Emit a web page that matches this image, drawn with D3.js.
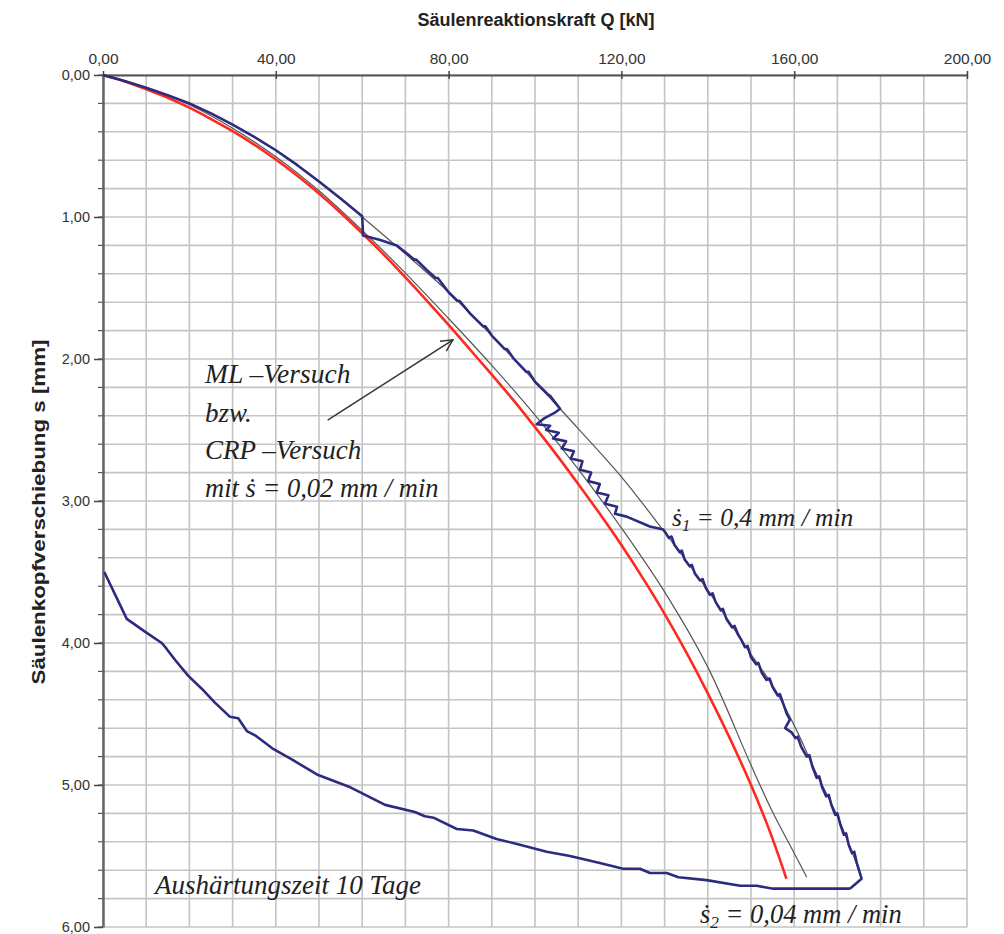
<!DOCTYPE html>
<html>
<head>
<meta charset="utf-8">
<script src="https://cdn.jsdelivr.net/npm/d3@7/dist/d3.min.js"></script>
<style>
  html, body { margin: 0; padding: 0; background: #fff; }
  svg { display: block; }
</style>
</head>
<body>
<svg id="chart" width="1004" height="934"></svg>
<script>
// ---- data (Q in kN, s in mm) ----
const xTicks = [0, 40, 80, 120, 160, 200];
const yTicks = [0, 1, 2, 3, 4, 5, 6];

// ML- / CRP-Versuch (red)
const redCurve = [
  [0,0],[5,0.045],[10,0.10],[15,0.16],[20,0.23],[25,0.31],[30,0.395],[35,0.49],[40,0.595],
  [45,0.71],[50,0.835],[55,0.97],[60,1.115],[65,1.265],[70,1.425],[75,1.59],[80,1.76],
  [85,1.935],[90,2.11],[95,2.29],[100,2.48],[105,2.675],[110,2.88],[115,3.09],[120,3.31],
  [125,3.545],[130,3.795],[135,4.065],[140,4.355],[145,4.665],[150,5.0],[154.4,5.33],[158.2,5.66]
];
// thin grey reference curve 1
const greyCurve1 = [
  [0,0],[10,0.09],[20,0.21],[30,0.375],[40,0.575],[50,0.815],[60,1.095],[70,1.395],[80,1.715],
  [90,2.045],[100,2.395],[110,2.775],[120,3.19],[130,3.64],[140,4.17],[150,4.86],
  [155,5.19],[160,5.48],[162.9,5.65]
];
// thin grey reference curve 2
const greyCurve2 = [
  [0,0],[10,0.09],[20,0.20],[30,0.35],[40,0.53],[50,0.75],[60,1.0],[70,1.26],[80,1.53],
  [90,1.835],[100,2.16],[110,2.49],[120,2.83],[130,3.22],[140,3.63],[150,4.08],[155,4.30],
  [160,4.58],[165,4.91],[170,5.22],[175,5.60]
];
// s1 = 0,4 mm/min (blue)
const blueS1 = [
  [0,0],[5,0.042],[10,0.09],[15,0.142],[20,0.20],[25,0.27],[30,0.35],[35,0.435],[40,0.53],
  [45,0.635],[50,0.75],[55,0.87],[60,0.995],[60.2,1.13],[64,1.16],[68,1.20],[70.5,1.26],
  [72,1.30],[72.5,1.30],[75,1.375],[77,1.43],[77.5,1.43],[80,1.53],[82,1.59],[82.5,1.59],
  [85,1.68],[88,1.77],[88.5,1.77],[90,1.835],[93,1.93],[93.5,1.93],[95,1.995],[98,2.09],
  [98.5,2.09],[100,2.16],[103,2.25],[103.5,2.26],[105.8,2.35],[104.5,2.38],[102,2.42],[100.4,2.46],
  [103.5,2.47],[102.6,2.50],[105.5,2.52],[104.2,2.56],[107.2,2.58],[106.2,2.63],[109,2.65],
  [108.3,2.70],[111,2.72],[110.4,2.78],[113,2.80],[112.3,2.86],[115,2.88],[114.3,2.94],
  [117,2.96],[116.2,3.02],[119,3.04],[118.5,3.09],[121.2,3.11],[126.6,3.18],[129.7,3.20],
  [131,3.26],[131.6,3.25],[132.3,3.31],[133.5,3.36],[134.0,3.35],[134.6,3.41],[135.8,3.46],
  [136.3,3.45],[137,3.51],[138.2,3.56],[138.8,3.55],[139.5,3.61],[140.5,3.66],[141.1,3.65],
  [141.8,3.71],[143,3.77],[143.5,3.76],[144.3,3.83],[145.6,3.89],[146.2,3.88],[147,3.94],
  [147.8,3.98],[148.6,4.03],[149.2,4.02],[150,4.10],[151.2,4.15],[151.7,4.14],[152.5,4.21],
  [153.6,4.26],[154.3,4.25],[155,4.31],[156.2,4.37],[156.7,4.36],[157.5,4.43],[158.3,4.50],
  [159,4.54],[157.9,4.60],[159.4,4.63],[160.3,4.67],[160.8,4.66],[161.6,4.73],[162.9,4.80],
  [163.5,4.79],[164.2,4.87],[165.2,4.95],[165.8,4.94],[166.4,5.01],[167.4,5.08],[168,5.07],
  [168.6,5.14],[169.5,5.21],[170,5.20],[170.7,5.28],[171.5,5.35],[172,5.34],[172.6,5.42],
  [173.4,5.48],[173.9,5.47],[174.5,5.55],[175.6,5.66],[172.9,5.73]
];
// s2 = 0,04 mm/min (blue, after 10 days curing)
const blueS2 = [
  [0.3,3.50],[5.5,3.83],[9.7,3.92],[13.6,4.00],[14.7,4.04],[16.7,4.12],[19.7,4.23],
  [22.8,4.32],[25.9,4.42],[29.4,4.52],[31.3,4.53],[33.3,4.62],[35.2,4.65],[39.1,4.74],
  [43.7,4.82],[49.8,4.93],[56.8,5.01],[65.3,5.14],[72.2,5.19],[74.5,5.22],[76.5,5.23],
  [81.9,5.31],[85.7,5.32],[91.1,5.38],[96.5,5.42],[102.7,5.47],[108.1,5.50],[115,5.55],
  [120.4,5.59],[124.3,5.59],[126.6,5.62],[130.5,5.62],[133.2,5.65],[139.7,5.67],
  [147.5,5.71],[151.3,5.71],[155.2,5.73],[172.9,5.73]
];
// annotation arrow (from, to) in data units
const arrowPts = [[52.0,2.43],[81.0,1.865]];

// ---- layout ----
const svg = d3.select("#chart");
const L = 103, T = 75, W = 864, H = 852;
const x = d3.scaleLinear().domain([0,200]).range([L, L+W]);
const y = d3.scaleLinear().domain([0,6]).range([T, T+H]);
const fmt = v => d3.format(".2f")(v).replace(".", ",");

// grid
const g = svg.append("g");
g.selectAll(".vg").data(d3.range(0, 201, 10)).join("line")
  .attr("x1", d => x(d)).attr("x2", d => x(d))
  .attr("y1", T).attr("y2", T + H)
  .attr("stroke", "#c4c4c4").attr("stroke-width", 1.6);
g.selectAll(".hg").data(d3.range(0, 31).map(i => i * 0.2)).join("line")
  .attr("x1", L).attr("x2", L + W)
  .attr("y1", d => y(d)).attr("y2", d => y(d))
  .attr("stroke", "#c4c4c4").attr("stroke-width", 1.6);

// top axis
const xAxis = d3.axisTop(x).tickValues(xTicks).tickFormat(fmt).tickSizeInner(4).tickSizeOuter(0).tickPadding(7);
const xa = svg.append("g").attr("transform", `translate(0,${T})`).call(xAxis);
xa.select(".domain").attr("stroke", "#555").attr("stroke-width", 2);
xa.selectAll(".tick line").attr("stroke", "#444").attr("stroke-width", 1.5).attr("y2", -4).attr("y1", 4);
xa.selectAll("text").attr("font-family", "Liberation Sans, Arial, sans-serif")
  .attr("font-size", 15.5).attr("fill", "#333");

// left axis
const yAxis = d3.axisLeft(y).tickValues(yTicks).tickFormat(fmt).tickSizeInner(9).tickSizeOuter(0).tickPadding(4);
const ya = svg.append("g").attr("transform", `translate(${L},0)`).call(yAxis);
ya.select(".domain").attr("stroke", "#666").attr("stroke-width", 2.5);
ya.selectAll(".tick line").attr("stroke", "#444").attr("stroke-width", 1.5);
ya.selectAll("text").attr("font-family", "Liberation Sans, Arial, sans-serif")
  .attr("font-size", 14.5).attr("fill", "#333");
svg.append("g").selectAll("line").data(d3.range(0, 31).map(i => i * 0.2)).join("line")
  .attr("x1", L - 5).attr("x2", L).attr("y1", d => y(d)).attr("y2", d => y(d))
  .attr("stroke", "#555").attr("stroke-width", 1.2);

// titles
svg.append("text").attr("x", 536).attr("y", 26).attr("text-anchor", "middle")
  .attr("font-family", "Liberation Sans, Arial, sans-serif").attr("font-weight", "bold")
  .attr("font-size", 18).attr("fill", "#222")
  .attr("textLength", 237).attr("lengthAdjust", "spacingAndGlyphs")
  .text("Säulenreaktionskraft Q [kN]");
svg.append("text").attr("transform", "translate(45,512) rotate(-90)").attr("text-anchor", "middle")
  .attr("font-family", "Liberation Sans, Arial, sans-serif").attr("font-weight", "bold")
  .attr("font-size", 18).attr("fill", "#222")
  .attr("textLength", 345).attr("lengthAdjust", "spacingAndGlyphs")
  .text("Säulenkopfverschiebung s [mm]");

// curves
const smooth = d3.line().curve(d3.curveCatmullRom.alpha(0.5)).x(d => x(d[0])).y(d => y(d[1]));
const line = d3.line().x(d => x(d[0])).y(d => y(d[1]));
const curves = svg.append("g").attr("fill", "none").attr("stroke-linejoin", "round");
curves.append("path").datum(greyCurve1).attr("d", smooth).attr("stroke", "#555").attr("stroke-width", 1.2);
curves.append("path").datum(greyCurve2).attr("d", smooth).attr("stroke", "#555").attr("stroke-width", 1.2);
curves.append("path").datum(redCurve).attr("d", smooth).attr("stroke", "#ff2a1f").attr("stroke-width", 2.6);
curves.append("path").datum(blueS2).attr("d", line).attr("stroke", "#2b2b7f").attr("stroke-width", 2.6);
curves.append("path").datum(blueS1).attr("d", line).attr("stroke", "#2b2b7f").attr("stroke-width", 2.6);

// arrow
svg.append("defs").append("marker").attr("id", "ah").attr("viewBox", "0 0 12 12")
  .attr("refX", 11).attr("refY", 6).attr("markerWidth", 14).attr("markerHeight", 14)
  .attr("markerUnits", "userSpaceOnUse").attr("orient", "auto")
  .append("path").attr("d", "M1,1 L11,6 L1,11").attr("fill", "none").attr("stroke", "#333").attr("stroke-width", 1.2);
svg.append("line").attr("x1", x(arrowPts[0][0])).attr("y1", y(arrowPts[0][1]))
  .attr("x2", x(arrowPts[1][0])).attr("y2", y(arrowPts[1][1]))
  .attr("stroke", "#333").attr("stroke-width", 1.4).attr("marker-end", "url(#ah)");

// annotation text
const serif = "Liberation Serif, Times New Roman, serif";
function ann(xp, yp, size, parts) {
  const t = svg.append("text").attr("x", xp).attr("y", yp).attr("font-family", serif)
    .attr("font-style", "italic").attr("font-size", size).attr("fill", "#222");
  parts.forEach(p => {
    const ts = t.append("tspan").text(p.t);
    if (p.sub) ts.attr("font-size", size * 0.65).attr("dy", 5);
    if (p.up) ts.attr("dy", -5);
  });
  return t;
}
ann(205, 383, 27.5, [{t: "ML –Versuch"}]);
ann(205, 422, 27, [{t: "bzw."}]);
ann(205, 459, 27, [{t: "CRP –Versuch"}]);
ann(205, 497, 26.5, [{t: "mit  ṡ = 0,02 mm / min"}]);
ann(672, 526, 25.5, [{t: "ṡ"}, {t: "1", sub: true}, {t: " = 0,4 mm / min", up: true}]);
ann(155, 894, 27, [{t: "Aushärtungszeit 10 Tage"}]);
ann(700, 923, 26.5, [{t: "ṡ"}, {t: "2", sub: true}, {t: " = 0,04 mm / min", up: true}]);
</script>
</body>
</html>
